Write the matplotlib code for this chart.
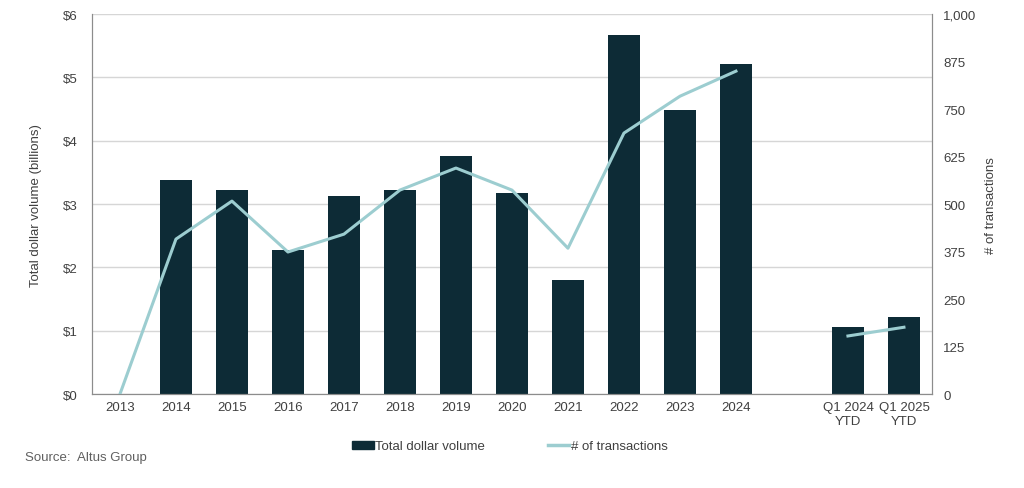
import numpy as np
import matplotlib.pyplot as plt
from matplotlib.lines import Line2D
from matplotlib.patches import Patch

plt.rcParams['font.family'] = ['Liberation Sans', 'DejaVu Sans']

labels = ['2013', '2014', '2015', '2016', '2017', '2018', '2019', '2020',
          '2021', '2022', '2023', '2024', '', 'Q1 2024\nYTD', 'Q1 2025\nYTD']
volume = [0, 3.38, 3.22, 2.27, 3.13, 3.22, 3.76, 3.17, 1.80, 5.67, 4.48, 5.21,
          np.nan, 1.06, 1.22]
transactions = [0, 408, 508, 374, 421, 537, 595, 537, 384, 687, 784, 850,
                np.nan, 153, 176]

bar_color = '#0d2b36'
line_color = '#9ccdd0'
text_color = '#404040'

fig = plt.figure(figsize=(10.24, 4.89), dpi=100)
ax = fig.add_axes([0.0898, 0.192, 0.8203, 0.777])
ax2 = ax.twinx()

x = np.arange(len(labels))
ax.bar(x, volume, width=0.57, color=bar_color, zorder=2)
ax2.plot(x, transactions, color=line_color, lw=2.2, zorder=3)

ax.set_xlim(-0.5, len(labels) - 0.5)
ax.set_ylim(0, 6)
ax2.set_ylim(0, 1000)
ax.set_yticks(range(0, 7))
ax.set_yticklabels(['$%d' % v for v in range(0, 7)])
ax2.set_yticks(np.arange(0, 1001, 125))
ax2.set_yticklabels(['{:,}'.format(v) for v in range(0, 1001, 125)])
ax.set_xticks(x)
ax.set_xticklabels(labels)

ax.grid(axis='y', color='#d6d6d6', lw=1, zorder=0)
ax.set_axisbelow(True)
for a in (ax, ax2):
    a.spines['top'].set_visible(False)
    for s in ('left', 'right', 'bottom'):
        a.spines[s].set_color('#8c8c8c')
    a.tick_params(length=0, labelsize=9.5, colors=text_color, pad=8)
ax.tick_params(axis='y', pad=10)
ax2.tick_params(axis='y', pad=8)
ax.tick_params(axis='x', pad=5)

ax.set_ylabel('Total dollar volume (billions)', fontsize=9.5, color=text_color, labelpad=15)
ax2.set_ylabel('# of transactions', fontsize=9.5, color=text_color, labelpad=6)

handles = [Patch(color=bar_color), Line2D([], [], color=line_color, lw=2.5)]
fig.legend(handles, ['Total dollar volume', '# of transactions'],
           loc='center', bbox_to_anchor=(0.498, 0.085), ncol=2, frameon=False,
           fontsize=9.5, handlelength=1.6, handleheight=0.5, handletextpad=0.1,
           columnspacing=4.8, labelcolor=text_color)

fig.text(0.024, 0.058, 'Source:  Altus Group', fontsize=9.5, color='#606060')

fig.savefig('out.png', dpi=100)
